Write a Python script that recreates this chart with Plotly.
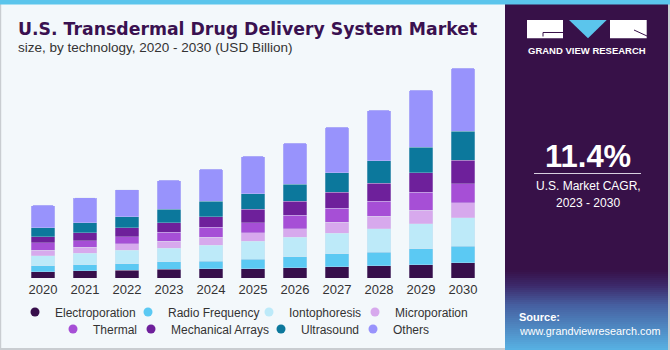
import plotly.graph_objects as go

years = ["2020", "2021", "2022", "2023", "2024", "2025", "2026", "2027", "2028", "2029", "2030"]
electroporation = [2.15, 2.50, 2.60, 2.95, 3.20, 3.19, 3.43, 3.88, 4.12, 4.56, 5.25]
radio_frequency = [2.05, 2.06, 2.29, 2.54, 2.50, 3.19, 3.88, 4.36, 4.67, 5.38, 5.59]
iontophoresis = [3.42, 3.88, 4.57, 4.67, 5.49, 6.17, 6.62, 7.07, 8.13, 8.68, 9.84]
microporation = [1.95, 2.06, 2.17, 2.40, 2.74, 2.88, 2.98, 3.77, 4.12, 4.46, 5.04]
thermal = [2.50, 2.30, 2.50, 3.09, 3.43, 3.53, 4.56, 4.70, 5.15, 6.28, 6.52]
mechanical_arrays = [2.05, 2.74, 3.09, 3.32, 3.66, 4.56, 4.80, 5.49, 6.17, 6.65, 8.00]
ultrasound = [3.07, 3.43, 3.77, 4.46, 5.15, 5.25, 5.83, 6.76, 7.79, 8.68, 9.95]
others = [7.62, 8.43, 9.26, 9.95, 11.00, 12.80, 13.96, 15.50, 17.15, 19.55, 21.50]

series_names = ["Electroporation", "Radio Frequency", "Iontophoresis", "Microporation",
                "Thermal", "Mechanical Arrays", "Ultrasound", "Others"]
series_values = [electroporation, radio_frequency, iontophoresis, microporation,
                 thermal, mechanical_arrays, ultrasound, others]
label_years = ["2020", "2021"]
label_texts = ["$24.8B", "$27.4B"]

colors = ["#370f4b", "#5bc9f3", "#bdeaf9", "#d7a9ed", "#a64fd6", "#6e209b", "#0c789c", "#9893fc"]

W, H = 670, 350
L, R, T, B = 22, 186, 60, 72
PW = W - L - R
PH = H - T - B


def X(px):
    return (px - L) / PW


def Y(py):
    return (H - B - py) / PH


fig = go.Figure()
for name, vals, col in zip(series_names, series_values, colors):
    fig.add_trace(go.Bar(
        x=years, y=vals, name=name,
        marker=dict(color=col, line=dict(width=0.5, color="rgba(220,225,240,0.6)")),
        showlegend=False, hoverinfo="skip"))

# legends: one per entry so positions match the reference rows (text start x, row centre y)
legend_pos = [(55, 312), (168, 312), (289, 312), (395, 312),
              (93, 329), (171, 329), (301, 329), (393, 329)]
layout_legends = {}
font_main = "Liberation Sans, Arial, sans-serif"
for i, (name, col) in enumerate(zip(series_names, colors)):
    key = "legend" if i == 0 else f"legend{i+1}"
    fig.add_trace(go.Scatter(
        x=[0], y=[None], mode="markers", name=name, xaxis="x2", yaxis="y2",
        marker=dict(color=col, size=9, symbol="circle"),
        legend=key, showlegend=True, hoverinfo="skip"))
    lx, ly = legend_pos[i]
    layout_legends[key] = dict(
        xref="container", yref="container",
        x=(lx - 40) / W, y=1 - ly / H, xanchor="left", yanchor="middle",
        orientation="h", bgcolor="rgba(0,0,0,0)", borderwidth=0,
        font=dict(family=font_main, size=12, color="#333333"),
        itemwidth=30, tracegroupgap=0, itemclick=False, itemdoubleclick=False)

totals = [sum(v[i] for v in series_values) for i in range(len(years))]
label_shift = [4, 15]
annotations = []
for yr, txt, ys in zip(label_years, label_texts, label_shift):
    idx = years.index(yr)
    annotations.append(dict(x=yr, y=totals[idx], xref="x", yref="y", text=txt, showarrow=False,
                            yanchor="bottom", yshift=ys,
                            font=dict(family=font_main, size=14, color="#222222")))

annotations += [
    dict(xref="paper", yref="paper", x=X(16), y=Y(29), xanchor="left", yanchor="middle",
         text="<b>U.S. Transdermal Drug Delivery System Market</b>", showarrow=False,
         font=dict(family="DejaVu Sans, sans-serif", size=17.3, color="#3a1150")),
    dict(xref="paper", yref="paper", x=X(16), y=Y(47), xanchor="left", yanchor="middle",
         text="size, by technology, 2020 - 2030 (USD Billion)", showarrow=False,
         font=dict(family=font_main, size=13.5, color="#333333")),
    dict(xref="paper", yref="paper", x=X(587), y=Y(51), xanchor="center", yanchor="middle",
         text="<b>GRAND VIEW RESEARCH</b>", showarrow=False,
         font=dict(family=font_main, size=9.5, color="#ffffff")),
    dict(xref="paper", yref="paper", x=X(588), y=Y(156), xanchor="center", yanchor="middle",
         text="<b>11.4%</b>", showarrow=False,
         font=dict(family=font_main, size=31, color="#ffffff")),
    dict(xref="paper", yref="paper", x=X(588), y=Y(186), xanchor="center", yanchor="middle",
         text="U.S. Market CAGR,", showarrow=False,
         font=dict(family=font_main, size=12, color="#ffffff")),
    dict(xref="paper", yref="paper", x=X(588), y=Y(203), xanchor="center", yanchor="middle",
         text="2023 - 2030", showarrow=False,
         font=dict(family=font_main, size=12, color="#ffffff")),
    dict(xref="paper", yref="paper", x=X(517), y=Y(317), xanchor="left", yanchor="middle",
         text="<b>Source:</b>", showarrow=False,
         font=dict(family=font_main, size=11, color="#ffffff")),
    dict(xref="paper", yref="paper", x=X(517), y=Y(331), xanchor="left", yanchor="middle",
         text="www.grandviewresearch.com", showarrow=False,
         font=dict(family=font_main, size=10.8, color="#ffffff")),
]

shapes = []


def rect(x0, y0, x1, y1, color, layer="below"):
    shapes.append(dict(type="rect", xref="paper", yref="paper", x0=X(x0), x1=X(x1), y0=Y(y1), y1=Y(y0),
                       fillcolor=color, line=dict(width=0), layer=layer))


# frame
rect(0, 0, 1.2, 350, "#c9cdd1")
rect(0, 348, 670, 350, "#c9cdd1")
# right panel
rect(505, 0, 668, 350, "#371148")
# gradient at panel bottom
stops = [(270, (55, 17, 72)), (285, (60, 40, 105)), (305, (70, 95, 160)), (350, (88, 178, 228))]
n = 40
for k in range(n):
    y0 = 270 + k * (80 / n)
    y1 = y0 + 80 / n + 0.3
    ym = (y0 + y1) / 2
    c = stops[-1][1]
    for j in range(len(stops) - 1):
        if stops[j][0] <= ym <= stops[j + 1][0]:
            t = (ym - stops[j][0]) / (stops[j + 1][0] - stops[j][0])
            c = tuple(int(stops[j][1][m] + t * (stops[j + 1][1][m] - stops[j][1][m])) for m in range(3))
            break
    rect(505, y0, 668, min(y1, 350), "rgb(%d,%d,%d)" % c)
rect(668, 0, 670, 350, "#c9cdd1")
# top strip
rect(0, 0, 670, 4.5, "#5bc5ec")
# logo
rect(527, 20, 563, 38.3, "#ffffff")
rect(610, 20, 646.7, 38.3, "#ffffff")
shapes.append(dict(type="path", xref="paper", yref="paper",
                   path="M %f %f L %f %f L %f %f Z" % (X(569), Y(20), X(606.7), Y(20), X(588), Y(38.3)),
                   fillcolor="#5bc5ec", line=dict(width=0), layer="below"))
shapes.append(dict(type="path", xref="paper", yref="paper",
                   path="M %f %f L %f %f L %f %f" % (X(543), Y(36.5), X(543), Y(32.5), X(563), Y(32.5)),
                   line=dict(width=1, color="#371148"), layer="below"))
shapes.append(dict(type="line", xref="paper", yref="paper", x0=X(634), y0=Y(30), x1=X(647), y1=Y(36),
                   line=dict(width=1, color="#371148"), layer="below"))
# line under CAGR
shapes.append(dict(type="line", xref="paper", yref="paper", x0=X(534), y0=Y(173.5), x1=X(641), y1=Y(173.5),
                   line=dict(width=1.2, color="#d8d0e0"), layer="above"))

fig.update_layout(
    width=W, height=H,
    margin=dict(l=L, r=R, t=T, b=B, pad=0, autoexpand=False),
    paper_bgcolor="#f3f8fb", plot_bgcolor="rgba(0,0,0,0)",
    barmode="stack", bargap=0.43, barcornerradius=2,
    xaxis=dict(type="category", categoryorder="array", categoryarray=years,
               range=[-0.5, len(years) - 0.5], showgrid=False, showline=False, zeroline=False, ticks="",
               tickfont=dict(family=font_main, size=13, color="#333333"), ticklabelstandoff=2),
    yaxis=dict(range=[0, PH / 2.925], showgrid=False, showline=False, zeroline=False,
               showticklabels=False, ticks=""),
    xaxis2=dict(overlaying="x", visible=False, range=[0, 1]),
    yaxis2=dict(overlaying="y", visible=False, range=[0, 1]),
    annotations=annotations, shapes=shapes,
    **layout_legends,
)

fig.write_html("out.html")
